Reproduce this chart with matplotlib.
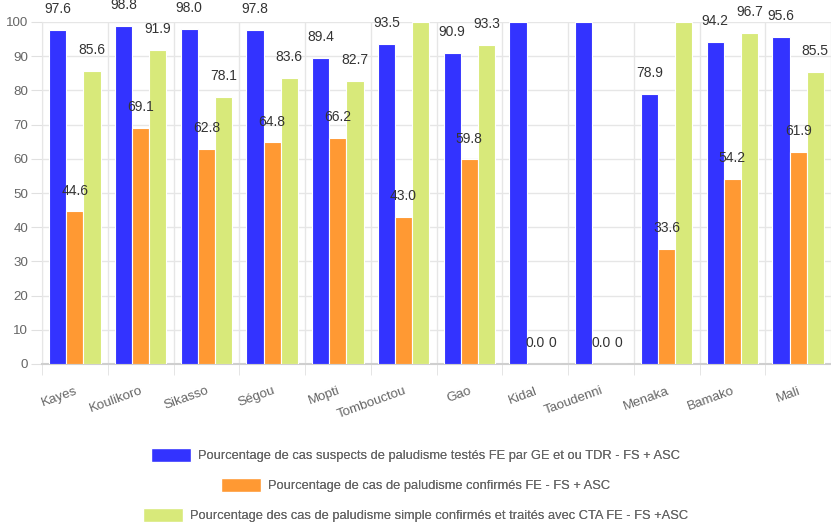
import numpy as np
import matplotlib.pyplot as plt
from matplotlib.patches import Patch

plt.rcParams['font.family'] = ['Liberation Sans', 'DejaVu Sans']

regions = ['Kayes', 'Koulikoro', 'Sikasso', 'Ségou', 'Mopti', 'Tombouctou', 'Gao',
           'Kidal', 'Taoudenni', 'Menaka', 'Bamako', 'Mali']
testes = [97.6, 98.8, 98.0, 97.8, 89.4, 93.5, 90.9, 100, 100, 78.9, 94.2, 95.6]
confirmes = [44.6, 69.1, 62.8, 64.8, 66.2, 43.0, 59.8, 0.0, 0.0, 33.6, 54.2, 61.9]
traites = [85.6, 91.9, 78.1, 83.6, 82.7, 100, 93.3, 0, 0, 100, 96.7, 85.5]

series_labels = [
    'Pourcentage de cas suspects de paludisme testés FE par GE et ou TDR - FS + ASC',
    'Pourcentage de cas de paludisme confirmés FE - FS + ASC',
    'Pourcentage des cas de paludisme simple confirmés et traités avec CTA FE - FS +ASC',
]
colors = ['#3333ff', '#ff9933', '#d8e97a']

fig = plt.figure(figsize=(8.31, 5.23), dpi=100)
ax = fig.add_axes([42/831, 1 - 364/523, 1 - 42/831, (364 - 22)/523])

x = np.arange(len(regions))
w = 0.262
series = [testes, confirmes, traites]
for i, (vals, col) in enumerate(zip(series, colors)):
    pos = x + (i - 1) * w
    ax.bar(pos, vals, width=w, color=col, edgecolor='white', linewidth=0.8, zorder=3)
    for px, v in zip(pos, vals):
        # labels for 100 % fall outside the canvas in the original
        if v >= 100:
            continue
        if i == 2 and v == 0:
            txt = '0'
        else:
            txt = '{:.1f}'.format(v)
        ax.annotate(txt, (px, v), xytext=(0, 15), textcoords='offset points',
                    ha='center', va='center', fontsize=10, color='#333333',
                    annotation_clip=False, zorder=4)

ax.set_xlim(-0.5, len(regions) - 0.5)
ax.set_ylim(0, 100)
ax.set_yticks(np.arange(0, 101, 10))
ax.set_xticks(x)
ax.set_xticklabels(regions, rotation=20, ha='right', rotation_mode='anchor')
ax.set_xticks(np.arange(-0.5, len(regions), 1), minor=True)
ax.tick_params(axis='x', which='major', length=0, pad=15, labelsize=9.6, labelcolor='#666666')
ax.tick_params(axis='x', which='minor', length=8, color='#e0e0e0')
ax.tick_params(axis='y', length=8, color='#e0e0e0', labelsize=9.6, labelcolor='#666666', pad=2)
ax.grid(True, axis='y', color='#e6e6e6', linewidth=1, zorder=0)
ax.grid(True, axis='x', which='minor', color='#e6e6e6', linewidth=1, zorder=0)
for s in ['top', 'right']:
    ax.spines[s].set_visible(False)
ax.spines['left'].set_color('#e6e6e6')
ax.spines['bottom'].set_color('#cfcfcf')
ax.spines['bottom'].set_linewidth(1.5)

ys = [1 - 455/523, 1 - 485/523, 1 - 515/523]
for lab, col, yy in zip(series_labels, colors, ys):
    leg = fig.legend(handles=[Patch(facecolor=col, edgecolor='white')], labels=[lab],
                     loc='center', bbox_to_anchor=(0.5, yy), frameon=False,
                     fontsize=9.3, labelcolor='#666666', handlelength=3.1,
                     handleheight=1.3, handletextpad=0.6, borderpad=0, borderaxespad=0)
    fig.add_artist(leg)

plt.savefig('out.png', dpi=100)
